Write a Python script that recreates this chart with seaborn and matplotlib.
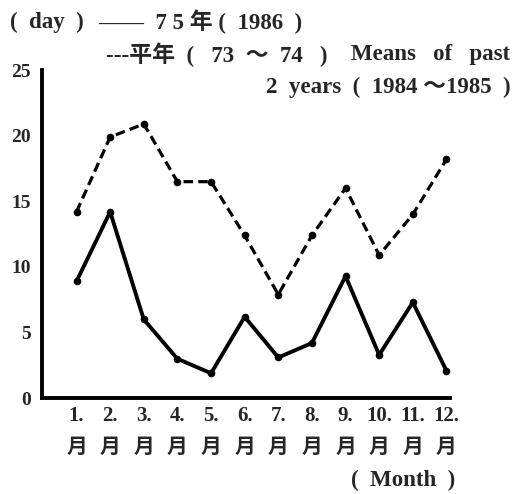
import numpy as np
import pandas as pd
import seaborn as sns
import matplotlib.pyplot as plt

# values (days per month)
months = ['1.', '2.', '3.', '4.', '5.', '6.', '7.', '8.', '9.', '10.', '11.', '12.']
days_1986 = [8.9, 14.2, 6.0, 3.0, 1.9, 6.2, 3.1, 4.2, 9.3, 3.3, 7.3, 2.1]
days_mean = [14.2, 19.9, 20.9, 16.5, 16.5, 12.4, 7.9, 12.4, 16.0, 10.9, 14.0, 18.2]
y_ticks = [0, 5, 10, 15, 20, 25]

df = pd.DataFrame({'m': np.arange(len(months)), 'y1986': days_1986, 'mean': days_mean})

sns.set_style('white')
fam = ['Liberation Serif', 'Noto Sans CJK JP', 'DejaVu Sans']
plt.rcParams['font.family'] = fam

fig = plt.figure(figsize=(5.17, 4.94), dpi=100)
ax = fig.add_axes([0.081, 0.194, 0.789, 0.664])

sns.lineplot(data=df, x='m', y='y1986', ax=ax, color='black', linewidth=2.8,
             marker='o', markersize=5.5, markeredgewidth=0)
sns.lineplot(data=df, x='m', y='mean', ax=ax, color='black', linewidth=2.3,
             linestyle=(0, (3, 1.6)), marker='o', markersize=5.5, markeredgewidth=0)

ax.set_xlim(-1.03, 11.1)
ax.set_ylim(0, 25)
ax.set_xticks(df['m'])
ax.set_xticklabels([m + '\n月' for m in months], fontsize=15, fontweight='bold',
                   linespacing=1.75)
ax.set_yticks(y_ticks)
ax.set_yticklabels([str(t) for t in y_ticks], fontsize=14, fontweight='bold')
ax.tick_params(length=0, pad=8)
ax.tick_params(axis='x', pad=6)
ax.set_xlabel('')
ax.set_ylabel('')
sns.despine(ax=ax)
for s in ['left', 'bottom']:
    ax.spines[s].set_linewidth(2.8)
    ax.spines[s].set_color('black')

fs = 16.5
fig.text(0.02, 0.955, '(  day  )', fontsize=fs, fontweight='bold', va='center')
fig.text(0.19, 0.955, '——  7 5 年 (  1986  )', fontsize=fs, fontweight='bold',
         va='center')
fig.text(0.205, 0.89, '---平年  (   73  ～  74   )', fontsize=fs,
         fontweight='bold', va='center')
fig.text(0.987, 0.89, 'Means   of   past', fontsize=fs,
         fontweight='bold', va='center', ha='right')
fig.text(0.987, 0.823, '2  years  (  1984 ～1985  )', fontsize=fs, fontweight='bold',
         va='center', ha='right')
fig.text(0.88, 0.028, '(  Month  )', fontsize=fs, fontweight='bold', va='center',
         ha='right')

plt.savefig('out.png', dpi=100)
